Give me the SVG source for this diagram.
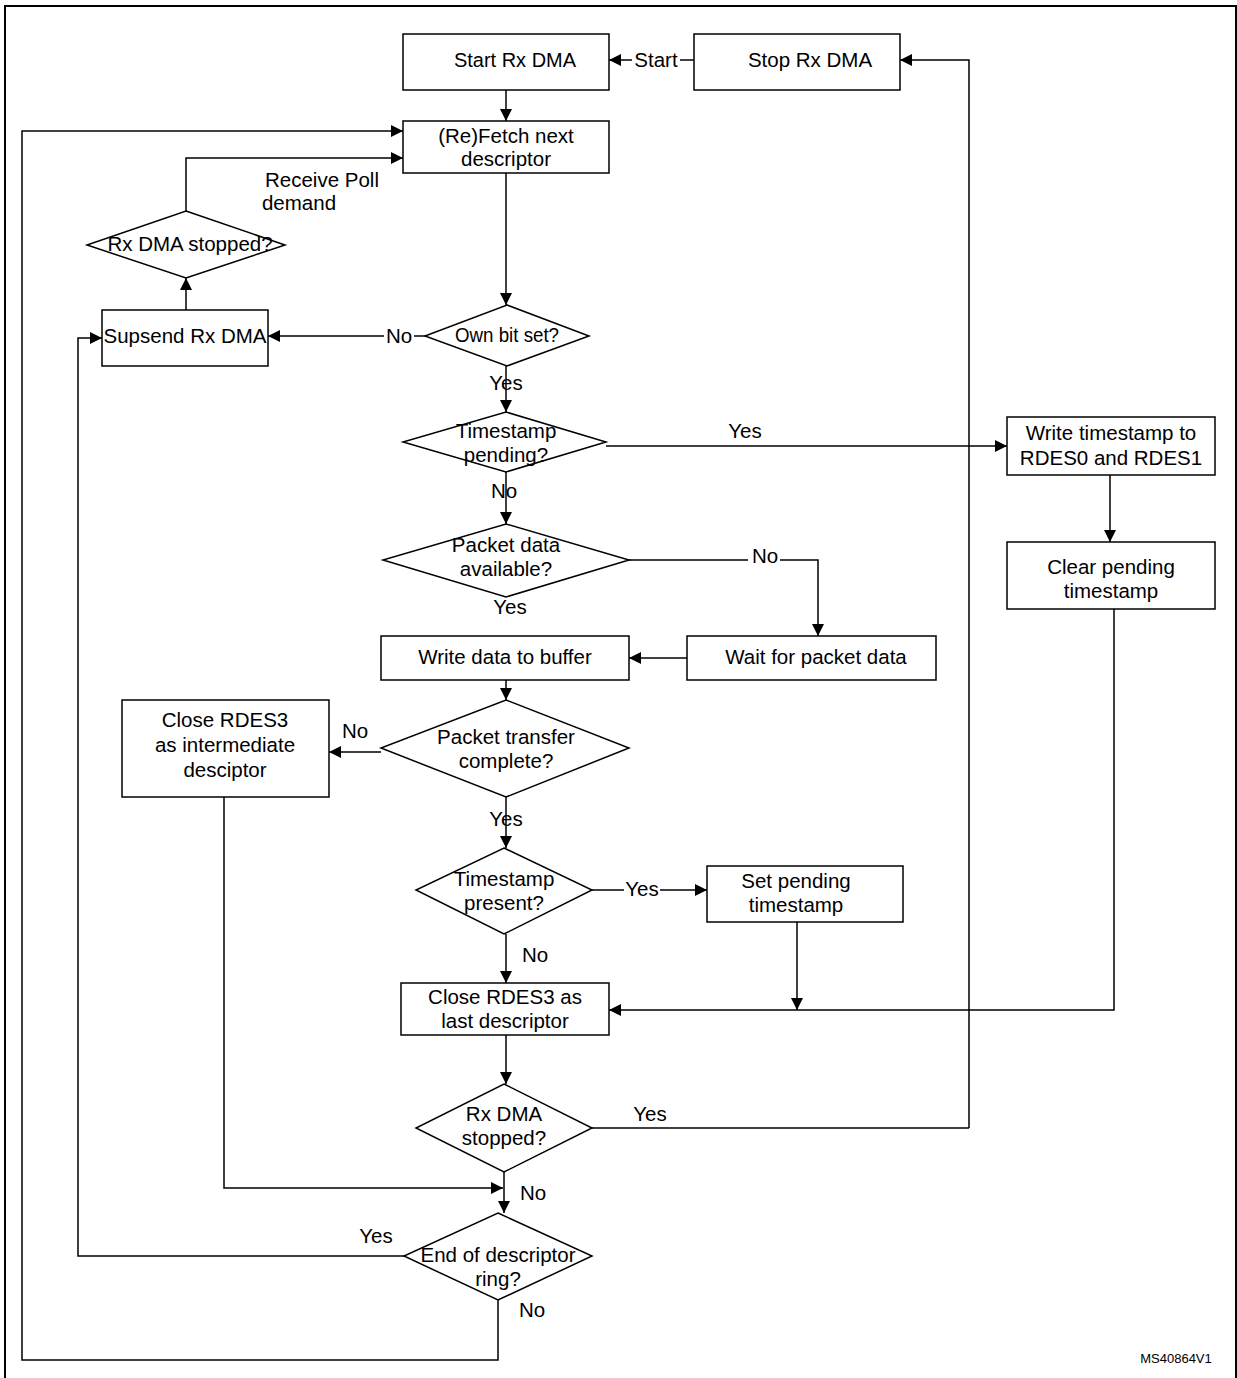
<svg xmlns="http://www.w3.org/2000/svg" width="1237" height="1378" viewBox="0 0 1237 1378">
<defs>
<marker id="a" viewBox="0 0 10 10" refX="10" refY="5" markerWidth="12" markerHeight="12" markerUnits="userSpaceOnUse" orient="auto"><path d="M0,0 L10,5 L0,10 z" fill="#000"/></marker>
<style>
.b{fill:#fff;stroke:#000;stroke-width:1.5}
.c{fill:none;stroke:#000;stroke-width:1.5;marker-end:url(#a)}
.l{fill:none;stroke:#000;stroke-width:1.5}
text{font-family:"Liberation Sans",Arial,sans-serif;font-size:20.5px;fill:#000;text-anchor:middle}
.s{font-size:13px}
</style>
</defs>
<rect width="1237" height="1378" fill="#fff"/>
<rect x="5" y="6" width="1231" height="1380" fill="none" stroke="#000" stroke-width="2"/>
<g id="connectors">
<path class="c" d="M694,60 H609"/>
<path class="c" d="M969,1128 V60 H900"/>
<path class="c" d="M506,90 V121"/>
<path class="c" d="M498,1300 V1360 H22 V131 H403"/>
<path class="c" d="M186,211 V158 H403"/>
<path class="c" d="M186,310 V278"/>
<path class="c" d="M506,173 V305"/>
<path class="c" d="M425,336 H268"/>
<path class="c" d="M506,366 V412"/>
<path class="c" d="M606,446 H1007"/>
<path class="c" d="M1110,475 V542"/>
<path class="c" d="M1114,609 V1010 H609"/>
<path class="c" d="M506,472 V524"/>
<path class="c" d="M629,560 H818 V636"/>
<path class="c" d="M687,658 H629"/>
<path class="c" d="M506,680 V700"/>
<path class="c" d="M381,752 H329"/>
<path class="c" d="M224,797 V1188 H503"/>
<path class="c" d="M506,797 V848"/>
<path class="c" d="M592,890 H707"/>
<path class="c" d="M797,922 V1010"/>
<path class="c" d="M506,934 V983"/>
<path class="c" d="M506,1035 V1084"/>
<path class="l" d="M592,1128 H969"/>
<path class="c" d="M504,1172 V1213"/>
<path class="c" d="M404,1256 H78 V338 H102"/>
</g>
<g id="labels">
<rect x="632" y="50" width="48" height="20" fill="#fff"/><text x="656" y="67">Start</text>
<text x="322" y="187">Receive Poll</text>
<text x="299" y="210">demand</text>
<rect x="384" y="326" width="30" height="20" fill="#fff"/><text x="399" y="343">No</text>
<text x="506" y="390">Yes</text>
<text x="745" y="438">Yes</text>
<text x="504" y="498">No</text>
<rect x="748" y="549" width="32" height="20" fill="#fff"/><text x="765" y="563">No</text>
<text x="510" y="614">Yes</text>
<text x="355" y="738">No</text>
<text x="506" y="826">Yes</text>
<rect x="624" y="880" width="36" height="20" fill="#fff"/><text x="642" y="896">Yes</text>
<text x="535" y="962">No</text>
<text x="650" y="1121">Yes</text>
<text x="533" y="1200">No</text>
<text x="376" y="1243">Yes</text>
<text x="532" y="1317">No</text>
<text class="s" x="1176" y="1363">MS40864V1</text>
</g>
<g id="start"><rect class="b" x="403" y="34" width="206" height="56"/><text x="515" y="67" textLength="122" lengthAdjust="spacingAndGlyphs">Start Rx DMA</text></g>
<g id="stop"><rect class="b" x="694" y="34" width="206" height="56"/><text x="810" y="67">Stop Rx DMA</text></g>
<g id="fetch"><rect class="b" x="403" y="121" width="206" height="52"/><text x="506" y="143">(Re)Fetch next</text><text x="506" y="166">descriptor</text></g>
<g id="rxstop1"><path class="b" d="M186,211 L285,245 L186,278 L87,245 Z"/><text x="190" y="251">Rx DMA stopped?</text></g>
<g id="suspend"><rect class="b" x="102" y="310" width="166" height="56"/><text x="185" y="343">Supsend Rx DMA</text></g>
<g id="own"><path class="b" d="M507,305 L589,336 L507,366 L425,336 Z"/><text x="507" y="342" textLength="104" lengthAdjust="spacingAndGlyphs">Own bit set?</text></g>
<g id="tspend"><path class="b" d="M506,412 L606,442 L506,472 L403,442 Z"/><text x="506" y="438">Timestamp</text><text x="506" y="462">pending?</text></g>
<g id="wts"><rect class="b" x="1007" y="417" width="208" height="58"/><text x="1111" y="440">Write timestamp to</text><text x="1111" y="465">RDES0 and RDES1</text></g>
<g id="clr"><rect class="b" x="1007" y="542" width="208" height="67"/><text x="1111" y="574">Clear pending</text><text x="1111" y="598">timestamp</text></g>
<g id="pda"><path class="b" d="M506,524 L629,560 L506,597 L383,560 Z"/><text x="506" y="552">Packet data</text><text x="506" y="576">available?</text></g>
<g id="wdb"><rect class="b" x="381" y="636" width="248" height="44"/><text x="505" y="664">Write data to buffer</text></g>
<g id="wait"><rect class="b" x="687" y="636" width="249" height="44"/><text x="816" y="664">Wait for packet data</text></g>
<g id="ptc"><path class="b" d="M506,700 L629,748 L506,797 L381,748 Z"/><text x="506" y="744">Packet transfer</text><text x="506" y="768">complete?</text></g>
<g id="inter"><rect class="b" x="122" y="700" width="207" height="97"/><text x="225" y="727">Close RDES3</text><text x="225" y="752">as intermediate</text><text x="225" y="777">desciptor</text></g>
<g id="tpres"><path class="b" d="M504,848 L592,890 L504,934 L416,890 Z"/><text x="504" y="886">Timestamp</text><text x="504" y="910">present?</text></g>
<g id="setp"><rect class="b" x="707" y="866" width="196" height="56"/><text x="796" y="888">Set pending</text><text x="796" y="912">timestamp</text></g>
<g id="last"><rect class="b" x="401" y="983" width="208" height="52"/><text x="505" y="1004">Close RDES3 as</text><text x="505" y="1028">last descriptor</text></g>
<g id="rxstop2"><path class="b" d="M504,1084 L592,1128 L504,1172 L416,1128 Z"/><text x="504" y="1121">Rx DMA</text><text x="504" y="1145">stopped?</text></g>
<g id="end"><path class="b" d="M498,1213 L592,1256 L498,1300 L404,1256 Z"/><text x="498" y="1262">End of descriptor</text><text x="498" y="1286">ring?</text></g>
</svg>
